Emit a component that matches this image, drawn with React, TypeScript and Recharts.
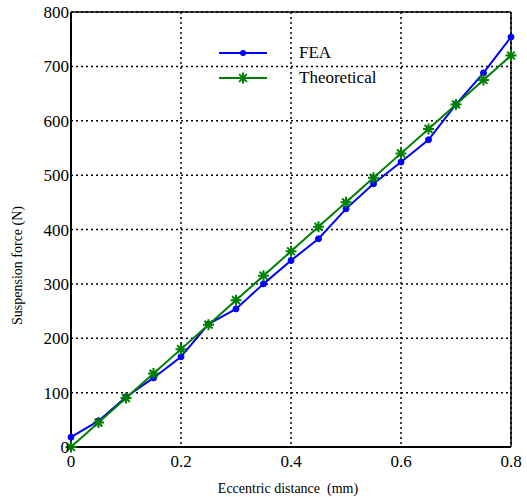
import React from "react";
import {
  LineChart,
  Line,
  XAxis,
  YAxis,
  CartesianGrid,
  ReferenceLine,
} from "recharts";

const distances = [0, 0.05, 0.1, 0.15, 0.2, 0.25, 0.3, 0.35, 0.4, 0.45, 0.5, 0.55, 0.6, 0.65, 0.7, 0.75, 0.8];
const feaValues = [18, 48, 92, 127, 166, 226, 254, 300, 343, 383, 438, 484, 524, 565, 630, 688, 754];
const theoreticalValues = [0, 45, 90, 135, 180, 225, 270, 315, 360, 405, 450, 495, 540, 585, 630, 675, 720];
const xTicks = [0, 0.2, 0.4, 0.6, 0.8];
const yTicks = [0, 100, 200, 300, 400, 500, 600, 700, 800];

const data = distances.map((d, i) => ({
  x: d,
  fea: feaValues[i],
  theo: theoreticalValues[i],
}));

const FONT = "Liberation Serif";
const BLUE = "#0000ff";
const GREEN = "#008000";

const Star = (props: any) => {
  const { cx, cy } = props;
  if (cx == null || cy == null) return null;
  const r = 5.5;
  const d = r * 0.707;
  return (
    <path
      d={`M${cx - r},${cy}L${cx + r},${cy}M${cx},${cy - r}L${cx},${cy + r}M${cx - d},${cy - d}L${cx + d},${cy + d}M${cx - d},${cy + d}L${cx + d},${cy - d}`}
      stroke={GREEN}
      strokeWidth={2}
      fill="none"
    />
  );
};

const Dot = (props: any) => {
  const { cx, cy } = props;
  if (cx == null || cy == null) return null;
  return <circle cx={cx} cy={cy} r={3} fill={BLUE} stroke={BLUE} />;
};

const XLabel = (props: any) => {
  const vb = props.viewBox || {};
  const cx = vb.x + vb.width / 2 - 3;
  const y = vb.y + 46;
  return (
    <text x={cx} y={y} textAnchor="middle" fontFamily={FONT} fontSize={14} fill="#000">
      {"Eccentric distance\u00a0\u00a0(mm)"}
    </text>
  );
};

const YLabel = (props: any) => {
  const vb = props.viewBox || {};
  const x = 22;
  const cy = vb.y + vb.height / 2 + 36;
  return (
    <text
      x={x}
      y={cy}
      transform={`rotate(-90, ${x}, ${cy})`}
      textAnchor="middle"
      fontFamily={FONT}
      fontSize={14}
      fill="#000"
    >
      Suspension force (N)
    </text>
  );
};

const LegendBox = () => (
  <div
    style={{
      position: "absolute",
      left: 219,
      top: 40,
      fontFamily: FONT,
      fontSize: 17,
      color: "#000",
      lineHeight: "25px",
    }}
  >
    <div style={{ display: "flex", alignItems: "center", height: 25 }}>
      <svg width={48} height={14}>
        <line x1={0} y1={7} x2={48} y2={7} stroke={BLUE} strokeWidth={2} />
        <circle cx={24} cy={7} r={3} fill={BLUE} />
      </svg>
      <span style={{ marginLeft: 32 }}>FEA</span>
    </div>
    <div style={{ display: "flex", alignItems: "center", height: 25 }}>
      <svg width={48} height={14}>
        <line x1={0} y1={7} x2={48} y2={7} stroke={GREEN} strokeWidth={2} />
        <Star cx={24} cy={7} />
      </svg>
      <span style={{ marginLeft: 32 }}>Theoretical</span>
    </div>
  </div>
);

export default function App() {
  return (
    <div style={{ position: "absolute", left: 0, top: 0, width: 527, height: 497, background: "#fff" }}>
      <LineChart
        width={527}
        height={497}
        data={data}
        margin={{ top: 12, right: 16, bottom: 0, left: 0 }}
        style={{ fontFamily: FONT }}
      >
        <CartesianGrid stroke="#000" strokeDasharray="2 3" strokeWidth={1.5} />
        <XAxis
          dataKey="x"
          type="number"
          domain={[0, 0.8]}
          ticks={xTicks}
          tickFormatter={(v: number) => (v === 0 ? "0" : String(v))}
          height={50}
          tickLine={false}
          tickSize={0}
          tickMargin={8}
          axisLine={{ stroke: "#000", strokeWidth: 2 }}
          tick={{ fill: "#000", fontSize: 17, fontFamily: FONT }}
          label={<XLabel />}
        />
        <YAxis
          type="number"
          domain={[0, 800]}
          ticks={yTicks}
          width={71}
          tickLine={false}
          tickSize={0}
          tickMargin={2}
          axisLine={{ stroke: "#000", strokeWidth: 2 }}
          tick={{ fill: "#000", fontSize: 17, fontFamily: FONT }}
          label={<YLabel />}
        />
        <ReferenceLine y={800} stroke="#000" strokeWidth={1.5} />
        <ReferenceLine x={0.8} stroke="#000" strokeWidth={1.5} />
        <Line
          dataKey="fea"
          stroke={BLUE}
          strokeWidth={2}
          dot={<Dot />}
          isAnimationActive={false}
        />
        <Line
          dataKey="theo"
          stroke={GREEN}
          strokeWidth={2}
          dot={<Star />}
          isAnimationActive={false}
        />
      </LineChart>
      <LegendBox />
    </div>
  );
}
